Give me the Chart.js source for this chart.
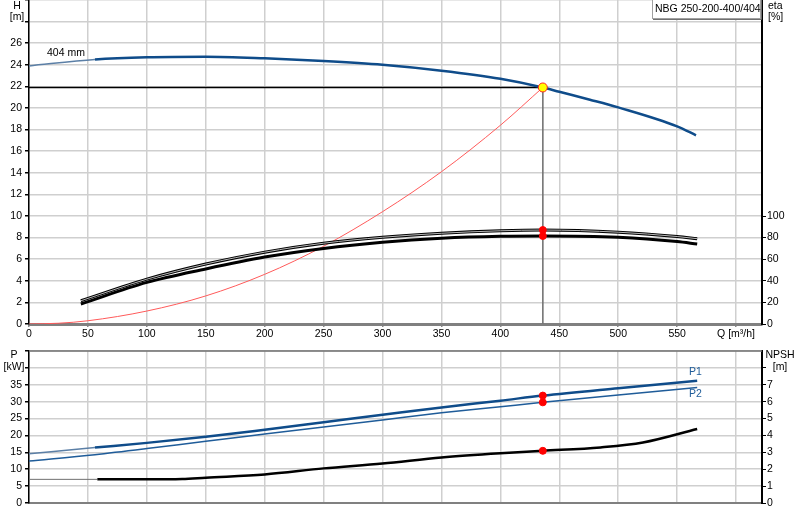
<!DOCTYPE html>
<html><head><meta charset="utf-8">
<script src="https://cdn.jsdelivr.net/npm/chart.js@4.4.1/dist/chart.umd.min.js"></script>
<style>
html,body{margin:0;padding:0;background:#fff;}
#wrap{position:relative;width:800px;height:520px;overflow:hidden;background:#fff;}
#top{position:absolute;left:0;top:0;}
#bot{position:absolute;left:0;top:345px;}
</style></head><body>
<div id="wrap"><canvas id="top" width="800" height="345"></canvas><canvas id="bot" width="800" height="175"></canvas></div>
<script>
// ---- tick values ----
const qTicks = [0,50,100,150,200,250,300,350,400,450,500,550,600];
const hTicks = [0,2,4,6,8,10,12,14,16,18,20,22,24,26,28,30];
const etaTicks = [0,20,40,60,80,100];
const pTicks = [0,5,10,15,20,25,30,35,40,45];
const npshTicks = [0,1,2,3,4,5,6,7,8];

// ---- head curve (404 mm impeller) ----
const qHead = [0,56,100,150,200,250,300,350,400,436,450,476,500,550,566];
const head  = [23.9,24.5,24.7,24.75,24.6,24.35,24.0,23.45,22.7,21.9,21.5,20.77,20.06,18.3,17.47];

// ---- efficiency curves ----
const qEta     = [44,100,150,200,250,300,350,400,436,500,550,567];
const etaUpper = [21.5,41.5,55.5,66.5,74.8,80.3,84.0,86.3,87.0,85.0,81.0,79.0];
const etaLower = [18.5,38.5,51.0,62.0,70.0,75.7,79.4,81.2,81.5,80.3,76.3,74.0];

// ---- system curve ----
const qSys = [0,25,50,100,150,200,250,300,350,400,436];
const hSys = [0,0.07,0.3,1.2,2.6,4.6,7.2,10.4,14.1,18.4,21.9];

// ---- power curves ----
const qP = [0,56,100,150,200,250,300,350,400,436,500,567];
const p1 = [14.6,16.4,17.8,19.6,21.7,23.9,26.1,28.3,30.3,31.8,34.0,36.2];
const p2 = [12.4,14.3,16.1,18.3,20.4,22.5,24.6,26.7,28.5,29.8,32.0,34.2];

// ---- NPSH ----
const qNpshExt = [0,58];
const npshExt  = [1.4,1.4];
const qNpsh = [58,100,130,150,200,250,300,350,400,436,485,521,567];
const npsh  = [1.4,1.4,1.42,1.5,1.69,2.05,2.34,2.7,2.95,3.09,3.29,3.58,4.38];

// ---- duty point ----
const dutyQ = 436;
const dutyH = 21.9;
const dutyEta = [87.0,81.5];
const dutyP = [31.8,29.8];
const dutyNpsh = 3.09;
const minFlow = 56;

const FONT = "'Liberation Sans', Arial, sans-serif";
Chart.defaults.font = {family: FONT, size: 10.5};
Chart.defaults.color = '#000';
const BLUE = '#0f4c8a';
const GRID = '#cfcfcf';

const pts = (xs, ys) => xs.map((x,i)=>({x:x, y:ys[i]}));
const fixTicks = vals => s => { s.ticks = vals.map(v=>({value:v})); };
const fitW = w => s => { s.width = w; s.paddingTop = 0; s.paddingBottom = 0; };
const fitH = h => s => { s.height = h; s.paddingLeft = 0; s.paddingRight = 0; };
const lineDs = (data, color, width, order, extra) => Object.assign({
  data: data, showLine: true, borderColor: color, borderWidth: width,
  pointRadius: 0, fill: false, cubicInterpolationMode: 'monotone', order: order
}, extra || {});
const dotDs = (data, axis, fill, border, r, order) => ({
  data: data, showLine: false, yAxisID: axis, pointRadius: r, pointBackgroundColor: fill,
  pointBorderColor: border, pointBorderWidth: 1, order: order
});
const extSeg = (thin, thick) => ({borderWidth: c => c.p1.parsed.x <= minFlow ? thin : thick,
  borderColor: c => c.p1.parsed.x <= minFlow ? '#5b7fa6' : BLUE});

function txt(ctx, s, x, y, align, color){
  ctx.save(); ctx.font = '10.5px ' + FONT; ctx.fillStyle = color || '#000';
  ctx.textAlign = align || 'center'; ctx.textBaseline = 'middle'; ctx.fillText(s, x, y); ctx.restore();
}

const topLabels = {
  id: 'topLabels',
  afterDraw(chart){
    const c = chart.ctx;
    txt(c, 'H', 17, 6); txt(c, '[m]', 17, 17);
    txt(c, 'eta', 768, 6, 'left'); txt(c, '[%]', 768, 17, 'left');
    txt(c, '404 mm', 47, 53, 'left');
    c.save();
    c.fillStyle = '#fff'; c.fillRect(652, 0, 109, 19);
    c.strokeStyle = '#a0a0a0'; c.lineWidth = 1; c.strokeRect(652.5, -0.5, 108, 19);
    c.strokeStyle = '#707070'; c.beginPath(); c.moveTo(653, 19.5); c.lineTo(761.5, 19.5); c.lineTo(761.5, 0); c.stroke();
    c.restore();
    txt(c, 'NBG 250-200-400/404', 655, 9, 'left');
  }
};
const botLabels = {
  id: 'botLabels',
  afterDraw(chart){
    const c = chart.ctx, a = chart.chartArea;
    c.save(); c.strokeStyle = '#707070'; c.lineWidth = 1.5;
    c.beginPath(); c.moveTo(a.left, a.top); c.lineTo(a.right, a.top); c.stroke(); c.restore();
    txt(c, 'P', 14, 10); txt(c, '[kW]', 14, 22);
    txt(c, 'NPSH', 780, 10); txt(c, '[m]', 780, 22);
    txt(c, 'P1', 689, 27, 'left', '#1f5c99');
    txt(c, 'P2', 689, 49, 'left', '#1f5c99');
  }
};

new Chart(document.getElementById('top'), {
  type: 'scatter',
  data: { datasets: [
    dotDs([{x:dutyQ, y:dutyH}], 'y', '#ffff00', '#ff2020', 4.5, 0),
    dotDs(dutyEta.map(v=>({x:dutyQ, y:v})), 'yEta', '#ff0000', '#ff0000', 3.5, 0),
    lineDs(pts(qHead, head), BLUE, 2.5, 1, {segment: extSeg(1.5, 2.5)}),
    lineDs(pts(qEta, etaUpper), '#b8b8b8', 1, 2, {yAxisID:'yEta'}),
    lineDs(pts(qEta, etaUpper), '#000', 3, 3, {yAxisID:'yEta'}),
    lineDs(pts(qEta, etaLower), '#000', 3, 3, {yAxisID:'yEta'}),
    lineDs(pts(qSys, hSys), '#ff5a5a', 1, 4),
    lineDs([{x:0,y:dutyH},{x:dutyQ,y:dutyH}], '#000', 1.5, 5, {cubicInterpolationMode:'default'}),
    lineDs([{x:dutyQ,y:dutyH},{x:dutyQ,y:0}], '#777', 1, 5, {cubicInterpolationMode:'default'})
  ]},
  options: {
    responsive: false, animation: false,
    layout: {padding: 0, autoPadding: false},
    plugins: {legend: {display:false}, tooltip: {enabled:false}},
    scales: {
      x: { type:'linear', min:0, max:622, afterBuildTicks: fixTicks(qTicks), afterFit: fitH(21),
        ticks: {callback: v => v === 600 ? 'Q [m³/h]' : v, padding: 1, maxRotation: 0, autoSkip: false},
        grid: {color: GRID, lineWidth: 1.5, tickLength: 3, tickColor: '#888'},
        border: {color: '#808080', width: 3} },
      y: { position:'left', min:0, max:30, afterBuildTicks: fixTicks(hTicks), afterFit: fitW(29),
        ticks: {callback: v => v >= 28 ? '' : v, padding: 3},
        grid: {color: GRID, lineWidth: 1.5, tickLength: 4, tickColor: '#000'},
        border: {color: '#000', width: 1.5} },
      yEta: { position:'right', min:0, max:300, afterBuildTicks: fixTicks(etaTicks), afterFit: fitW(38),
        ticks: {padding: 1},
        grid: {drawOnChartArea: false, tickLength: 4, tickColor: '#000'},
        border: {color: '#000', width: 2} }
    }
  },
  plugins: [topLabels]
});

new Chart(document.getElementById('bot'), {
  type: 'scatter',
  data: { datasets: [
    dotDs(dutyP.map(v=>({x:dutyQ, y:v})), 'y', '#ff0000', '#ff0000', 3.5, 0),
    dotDs([{x:dutyQ, y:dutyNpsh}], 'yN', '#ff0000', '#ff0000', 3.5, 0),
    lineDs(pts(qP, p1), BLUE, 2.5, 1, {segment: extSeg(1.5, 2.5)}),
    lineDs(pts(qP, p2), '#1f5c99', 1.5, 1),
    lineDs(pts(qNpsh, npsh), '#000', 2.5, 2, {yAxisID:'yN'}),
    lineDs(pts(qNpshExt, npshExt), '#707070', 1, 2, {yAxisID:'yN'})
  ]},
  options: {
    responsive: false, animation: false,
    layout: {padding: {top: 6, left: 0, right: 0, bottom: 0}, autoPadding: false},
    plugins: {legend: {display:false}, tooltip: {enabled:false}},
    scales: {
      x: { type:'linear', min:0, max:622, afterBuildTicks: fixTicks(qTicks), afterFit: fitH(17),
        ticks: {display: false},
        grid: {color: GRID, lineWidth: 1.5, drawTicks: false},
        border: {color: '#808080', width: 2} },
      y: { position:'left', min:0, max:45, afterBuildTicks: fixTicks(pTicks), afterFit: fitW(29),
        ticks: {callback: v => v >= 40 ? '' : v, padding: 3},
        grid: {color: GRID, lineWidth: 1.5, tickLength: 4, tickColor: '#000'},
        border: {color: '#000', width: 1.5} },
      yN: { position:'right', min:0, max:9, afterBuildTicks: fixTicks(npshTicks), afterFit: fitW(38),
        ticks: {callback: v => v >= 8 ? '' : v, padding: 1},
        grid: {drawOnChartArea: false, tickLength: 4, tickColor: '#000'},
        border: {color: '#000', width: 2} }
    }
  },
  plugins: [botLabels]
});
</script>
</body></html>
